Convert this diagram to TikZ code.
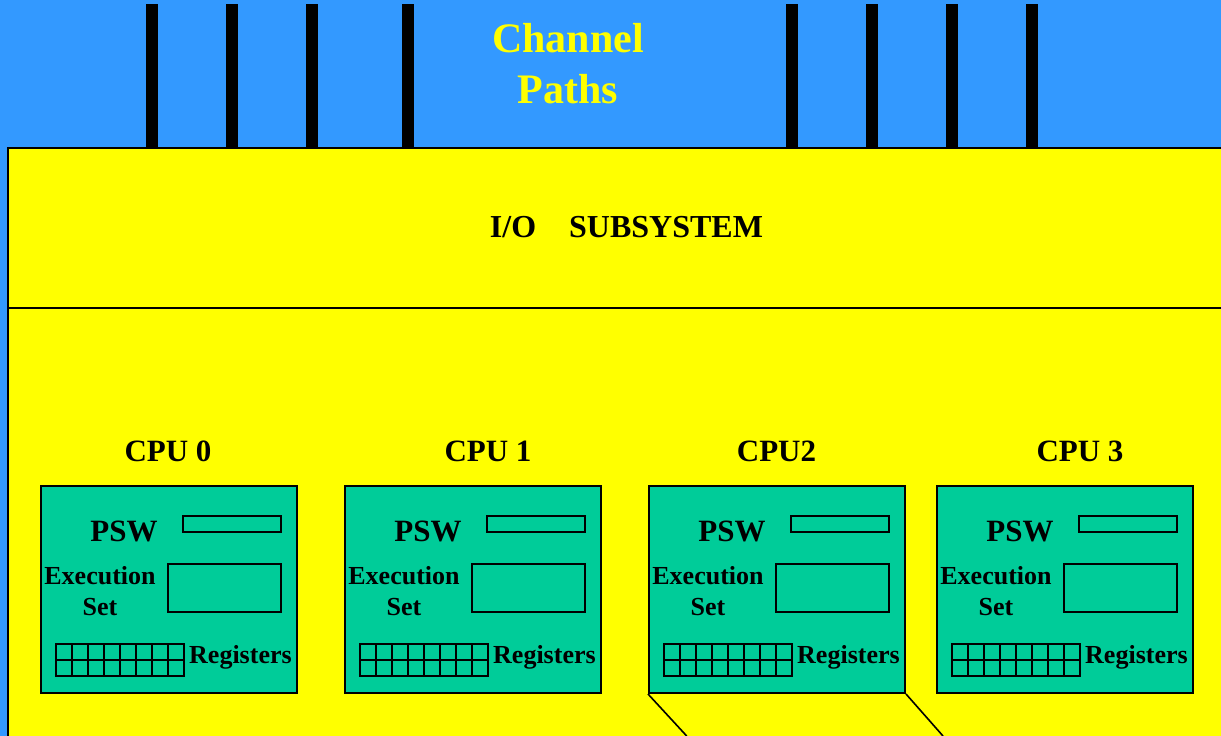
\documentclass[tikz,border=0pt]{standalone}
\usepackage{fontspec}
\setmainfont{Liberation Serif}
\definecolor{bgblue}{RGB}{51,153,255}
\definecolor{cpugreen}{RGB}{0,204,153}
\definecolor{ylw}{RGB}{255,255,0}
\begin{document}
\begin{tikzpicture}[x=1pt,y=-1pt,
  chbar/.style={fill=black,draw=none},
  cpubox/.style={draw,fill=cpugreen,line width=2pt,rectangle,minimum width=256pt,minimum height=207pt,inner sep=0pt,anchor=north west},
  innerbox/.style={draw,line width=2pt},
  reggrid/.style={draw,line width=1.9pt},
  bigtxt/.style={font=\fontsize{42}{51}\selectfont\bfseries,text=ylw,align=center},
  iotxt/.style={font=\fontsize{32}{38}\selectfont\bfseries},
  cputxt/.style={font=\fontsize{31}{37}\selectfont\bfseries},
  smalltxt/.style={font=\fontsize{26}{31}\selectfont\bfseries,inner sep=0pt},
  link/.style={line width=1.6pt}]
\useasboundingbox (0,0) rectangle (1221,736);
\clip (0,0) rectangle (1221,736);
\fill[bgblue] (0,0) rectangle (1221,736);
% channel path bars
\foreach \x in {146,226,306,402,786,866,946,1026}
  \fill[chbar] (\x,4) rectangle ++(12,144);
\node[bigtxt] (chan) at (568,64) {Channel\\Paths};
% I/O subsystem
\draw[fill=ylw,line width=2pt] (8,148) rectangle (1240,760);
\draw[line width=2pt] (8,307.5) -- (1240,307.5);
\node[iotxt] (io) at (626.5,227) {I/O\hspace{33pt}SUBSYSTEM};
% CPUs
\foreach \i/\bx/\lx/\lab in {0/40/168/CPU 0,1/344/488/CPU 1,2/648/776.5/CPU2,3/936/1080/CPU 3}{
  \node[cputxt] (lab\i) at (\lx,451) {\lab};
  \node[cpubox] (cpu\i) at (\bx,485) {};
  \draw[innerbox] (\bx+143.3,484+31.7) rectangle (\bx+240.7,484+48);
  \draw[innerbox] (\bx+127.7,484+79.7) rectangle (\bx+240.7,484+128);
  \draw[reggrid] (\bx+15.7,484+159.7) rectangle (\bx+144.3,484+192.3);
  \draw[reggrid] (\bx+15.7,484+176) -- (\bx+144.3,484+176);
  \foreach \k in {1,...,7}
    \draw[reggrid] (\bx+15.7+\k*16.075,484+159.7) -- (\bx+15.7+\k*16.075,484+192.3);
  \node[cputxt] (psw\i) at (\bx+84,484+47) {PSW};
  \node[smalltxt] (exe\i) at (\bx+60,484+92) {Execution};
  \node[smalltxt] (set\i) at (\bx+60,484+123) {Set};
  \node[smalltxt,anchor=west] (reg\i) at (\bx+149,484+173) {Registers};
}
% links from CPU2
\coordinate (e1) at (686.7,736);
\coordinate (e2) at (943,736);
\draw[link] (cpu2.south west) -- (e1);
\draw[link] (cpu2.south east) -- (e2);
\end{tikzpicture}
\end{document}
